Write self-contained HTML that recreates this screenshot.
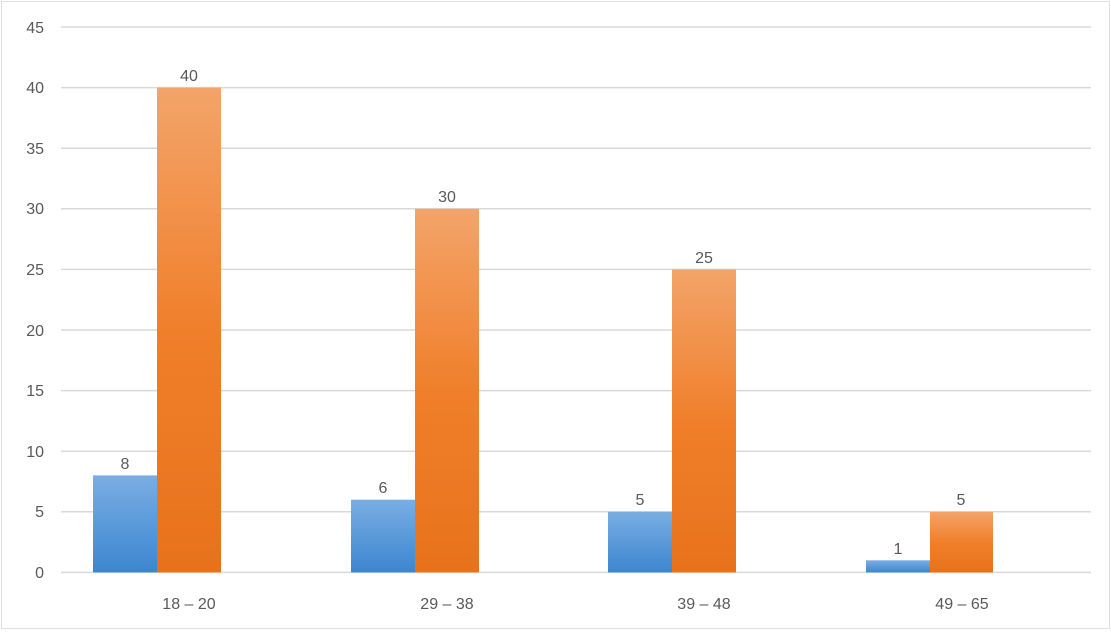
<!DOCTYPE html>
<html><head><style>
body{margin:0;background:#fff}
svg text{font-family:"Liberation Sans",sans-serif;fill:#595959}
</style></head><body>
<svg width="1111" height="630" xmlns="http://www.w3.org/2000/svg">
<defs>
<linearGradient id="b" x1="0" y1="0" x2="0" y2="1"><stop offset="0" stop-color="#7aaee3"/><stop offset="1" stop-color="#3c86d0"/></linearGradient>
<linearGradient id="o" x1="0" y1="0" x2="0" y2="1"><stop offset="0" stop-color="#f3a46a"/><stop offset="0.5" stop-color="#f07f2a"/><stop offset="1" stop-color="#e8721c"/></linearGradient>
</defs>
<rect x="1.5" y="1.5" width="1108" height="627" fill="#fff" stroke="#e0e0e0"/>
<g stroke="#d9d9d9" stroke-width="1.5">
<line x1="61" x2="1091" y1="27" y2="27"/><line x1="61" x2="1091" y1="87.6" y2="87.6"/>
<line x1="61" x2="1091" y1="148.2" y2="148.2"/><line x1="61" x2="1091" y1="208.8" y2="208.8"/>
<line x1="61" x2="1091" y1="269.4" y2="269.4"/><line x1="61" x2="1091" y1="330" y2="330"/>
<line x1="61" x2="1091" y1="390.6" y2="390.6"/><line x1="61" x2="1091" y1="451.2" y2="451.2"/>
<line x1="61" x2="1091" y1="511.8" y2="511.8"/><line x1="61" x2="1091" y1="572.4" y2="572.4"/>
</g>
<g font-size="16" text-anchor="end">
<text x="44" y="33">45</text><text x="44" y="93">40</text><text x="44" y="154">35</text>
<text x="44" y="214">30</text><text x="44" y="275">25</text><text x="44" y="336">20</text>
<text x="44" y="396">15</text><text x="44" y="457">10</text><text x="44" y="517">5</text><text x="44" y="578">0</text>
</g>
<rect x="93" y="475.4" width="64" height="97" fill="url(#b)"/>
<rect x="157" y="87.6" width="64" height="484.8" fill="url(#o)"/>
<rect x="351" y="499.7" width="64" height="72.7" fill="url(#b)"/>
<rect x="415" y="208.8" width="64" height="363.6" fill="url(#o)"/>
<rect x="608" y="511.8" width="64" height="60.6" fill="url(#b)"/>
<rect x="672" y="269.4" width="64" height="303" fill="url(#o)"/>
<rect x="866" y="560.3" width="64" height="12.1" fill="url(#b)"/>
<rect x="930" y="511.8" width="63" height="60.6" fill="url(#o)"/>
<g font-size="16" text-anchor="middle">
<text x="125" y="469">8</text><text x="189" y="81">40</text>
<text x="383" y="493">6</text><text x="447" y="202">30</text>
<text x="640" y="505">5</text><text x="704" y="263">25</text>
<text x="898" y="554">1</text><text x="961" y="505">5</text>
<text x="189" y="609">18 – 20</text><text x="447" y="609">29 – 38</text>
<text x="704" y="609">39 – 48</text><text x="962" y="609">49 – 65</text>
</g>
</svg>
</body></html>
